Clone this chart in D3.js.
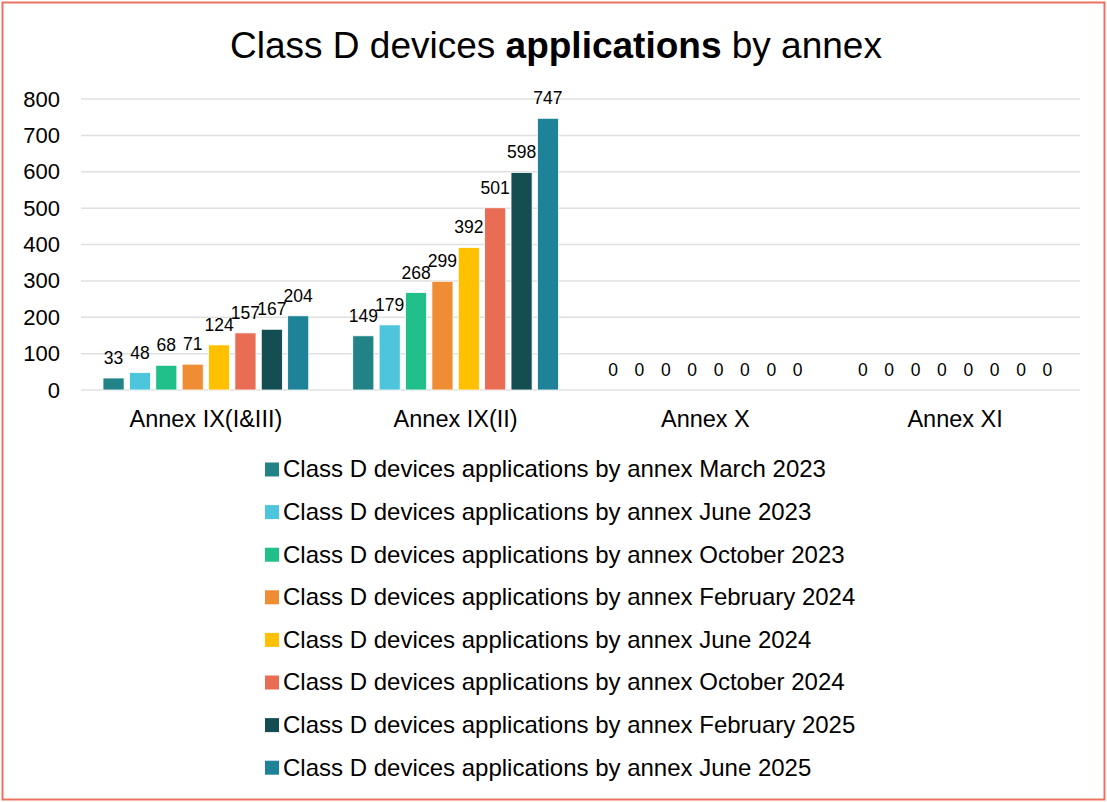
<!DOCTYPE html>
<html>
<head>
<meta charset="utf-8">
<style>
  body { margin: 0; background: #fff; }
  svg { font-family: Arial, "Liberation Sans", sans-serif; }
</style>
</head>
<body>
<svg width="1107" height="802"></svg>
<script src="https://d3js.org/d3.v7.min.js"></script>
<script>

var categories = ["Annex IX(I&III)", "Annex IX(II)", "Annex X", "Annex XI"];
var seriesNames = [
  "Class D devices applications by annex March 2023",
  "Class D devices applications by annex June 2023",
  "Class D devices applications by annex October 2023",
  "Class D devices applications by annex February 2024",
  "Class D devices applications by annex June 2024",
  "Class D devices applications by annex October 2024",
  "Class D devices applications by annex February 2025",
  "Class D devices applications by annex June 2025"
];
var march2023 = [33, 149, 0, 0];
var june2023 = [48, 179, 0, 0];
var october2023 = [68, 268, 0, 0];
var february2024 = [71, 299, 0, 0];
var june2024 = [124, 392, 0, 0];
var october2024 = [157, 501, 0, 0];
var february2025 = [167, 598, 0, 0];
var june2025 = [204, 747, 0, 0];
var yTicks = [0, 100, 200, 300, 400, 500, 600, 700, 800];
var colors = ["#218385", "#4DC5DD", "#21C08A", "#EE8D33", "#FFC000", "#E96C55", "#144E53", "#1E8398"];

var seriesValues = [march2023, june2023, october2023, february2024, june2024, october2024, february2025, june2025];

var svg = d3.select("svg"),
    margin = {top: 99, right: 27, bottom: 412, left: 81},
    width = +svg.attr("width") - margin.left - margin.right,
    height = +svg.attr("height") - margin.top - margin.bottom;

// outer frame
svg.append("rect")
    .attr("x", 2.5).attr("y", 2.5)
    .attr("width", 1102).attr("height", 797)
    .attr("fill", "#fff")
    .attr("stroke", "#E8735E")
    .attr("stroke-width", 2);

var title = svg.append("text")
    .attr("x", 556).attr("y", 58)
    .attr("text-anchor", "middle")
    .attr("font-size", "37px")
    .attr("fill", "#000");
title.append("tspan").text("Class D devices ");
title.append("tspan").attr("font-weight", "bold").text("applications");
title.append("tspan").text(" by annex");

var g = svg.append("g").attr("transform", "translate(" + margin.left + "," + margin.top + ")");

var x0 = d3.scaleBand().domain(categories).range([0, width]).paddingInner(0).paddingOuter(0);
var x1 = d3.scaleBand().domain(d3.range(seriesNames.length))
    .range([22, x0.bandwidth() - 22]).paddingInner(0.2).paddingOuter(0);
var y = d3.scaleLinear().domain([0, 800]).range([height, 0]);

// gridlines
g.append("g")
  .selectAll("line")
  .data(yTicks)
  .join("line")
    .attr("x1", 0).attr("x2", width)
    .attr("y1", function(d) { return y(d); })
    .attr("y2", function(d) { return y(d); })
    .attr("stroke", "#e0e0e0")
    .attr("stroke-width", 1.5);

var yAxis = g.append("g")
    .call(d3.axisLeft(y).tickValues(yTicks).tickSize(0).tickPadding(21));
yAxis.select(".domain").remove();
yAxis.selectAll("text")
    .attr("font-size", "22px")
    .attr("font-family", "Arial, 'Liberation Sans', sans-serif")
    .attr("fill", "#000");

var xAxis = g.append("g")
    .attr("transform", "translate(0," + height + ")")
    .call(d3.axisBottom(x0).tickSize(0).tickPadding(20));
xAxis.select(".domain").remove();
xAxis.selectAll("text")
    .attr("font-size", "23.5px")
    .attr("font-family", "Arial, 'Liberation Sans', sans-serif")
    .attr("fill", "#000");

var groups = g.selectAll(".cat")
  .data(categories)
  .join("g")
    .attr("class", "cat")
    .attr("transform", function(d) { return "translate(" + x0(d) + ",0)"; });

groups.selectAll("rect")
  .data(function(d, i) { return seriesValues.map(function(s, j) { return {s: j, v: s[i]}; }); })
  .join("rect")
    .attr("x", function(d) { return x1(d.s); })
    .attr("width", x1.bandwidth())
    .attr("y", function(d) { return y(d.v); })
    .attr("height", function(d) { return height - y(d.v); })
    .attr("fill", function(d) { return colors[d.s]; })
    .attr("stroke", "#fff")
    .attr("stroke-width", 0.8);

groups.selectAll(".lbl")
  .data(function(d, i) { return seriesValues.map(function(s, j) { return {s: j, v: s[i]}; }); })
  .join("text")
    .attr("class", "lbl")
    .attr("x", function(d) { return x1(d.s) + x1.bandwidth() / 2; })
    .attr("y", function(d) { return y(d.v) - 14; })
    .attr("text-anchor", "middle")
    .attr("font-size", "17.5px")
    .attr("fill", "#000")
    .text(function(d) { return d.v; });

// legend
var legend = svg.append("g").attr("transform", "translate(265,469)");
var item = legend.selectAll("g")
  .data(seriesNames)
  .join("g")
    .attr("transform", function(d, i) { return "translate(0," + (i * 42.6) + ")"; });
item.append("rect")
    .attr("x", 0).attr("y", -6.5)
    .attr("width", 14).attr("height", 14)
    .attr("fill", function(d, i) { return colors[i]; });
item.append("text")
    .attr("x", 18).attr("y", 0)
    .attr("dy", "0.35em")
    .attr("font-size", "24px")
    .attr("fill", "#000")
    .text(function(d) { return d; });

</script>
</body>
</html>
